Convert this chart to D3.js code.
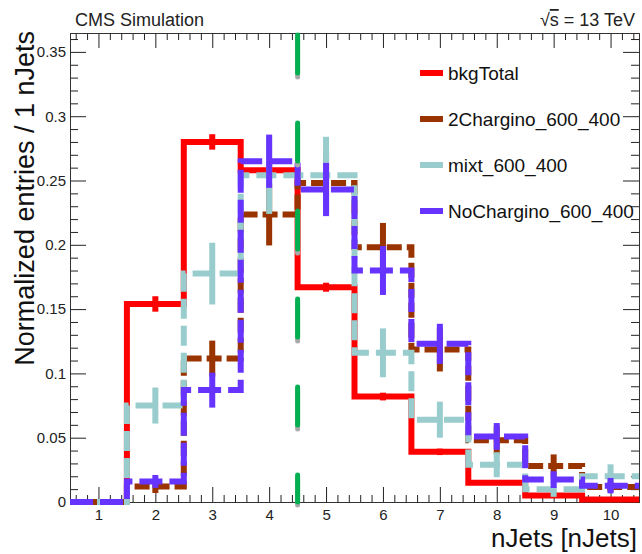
<!DOCTYPE html>
<html>
<head>
<meta charset="utf-8">
<script src="https://cdn.jsdelivr.net/npm/d3@7"></script>
<style>
body { margin: 0; background: #fff; }
text { font-family: "Liberation Sans", Arial, sans-serif; }
</style>
</head>
<body>
<script>
// nJets histogram, 4 samples, normalised
var w = 642, h = 554;
var x0 = 70, x1 = 639, y0 = 502, y1 = 33;

var bins = [1, 2, 3, 4, 5, 6, 7, 8, 9, 10];
var xTicks = [1, 2, 3, 4, 5, 6, 7, 8, 9, 10];
var yTicks = [0, 0.05, 0.1, 0.15, 0.2, 0.25, 0.3, 0.35];

var bkgTotal    = [0, 0.154, 0.280, 0.258, 0.167, 0.082, 0.039, 0.015, 0.005, 0.002];
var bkgTotalErr = [0, 0.006, 0.006, 0.005, 0.0035, 0.003, 0.0025, 0.0015, 0.001, 0.0005];
var chargino2    = [0, 0.012, 0.1115, 0.2235, 0.248, 0.198, 0.1185, 0.048, 0.028, 0.0117];
var chargino2Err = [0, 0.005, 0.014, 0.024, 0.024, 0.019, 0.017, 0.011, 0.009, 0.004];
var mixt    = [0, 0.075, 0.1776, 0.254, 0.254, 0.116, 0.064, 0.029, 0.010, 0.020];
var mixtErr = [0, 0.014, 0.024, 0.030, 0.030, 0.019, 0.014, 0.0097, 0.006, 0.0093];
var noChargino    = [0, 0.016, 0.087, 0.265, 0.243, 0.180, 0.123, 0.051, 0.0174, 0.0127];
var noCharginoErr = [0, 0.005, 0.0136, 0.0207, 0.0207, 0.019, 0.0156, 0.0104, 0.0065, 0.006];
var cutValue = 4.5;

var series = [
  {name: "bkgTotal", vals: bkgTotal, errs: bkgTotalErr, color: "#ff0000", dash: null},
  {name: "2Chargino_600_400", vals: chargino2, errs: chargino2Err, color: "#993300", dash: "15 5"},
  {name: "mixt_600_400", vals: mixt, errs: mixtErr, color: "#99cccc", dash: "20 7"},
  {name: "NoChargino_600_400", vals: noChargino, errs: noCharginoErr, color: "#6633ff", dash: "23 7"}
];

var svg = d3.select("body").append("svg")
  .attr("width", w)
  .attr("height", h);

var x = d3.scaleLinear().domain([0.5, 10.5]).range([x0, x1]);
var y = d3.scaleLinear().domain([0, 0.3647]).range([y0, y1]);

// minor ticks
var xMinor = d3.range(0.6, 10.5, 0.2).filter(function(d){ return Math.abs(d - Math.round(d)) > 0.05; });
var yMinor = d3.range(0.01, 0.365, 0.01).filter(function(d){ return Math.abs(d*20 - Math.round(d*20)) > 0.05; });

function styleAxis(g) {
  g.selectAll(".domain").attr("stroke", "#333");
  g.selectAll(".tick line").attr("stroke", "#222");
}

// bottom axis
svg.append("g").attr("transform", "translate(0," + y0 + ")")
  .call(d3.axisBottom(x).tickValues(xMinor).tickSize(-7).tickSizeOuter(0).tickFormat(""))
  .call(styleAxis);
svg.append("g").attr("transform", "translate(0," + y0 + ")")
  .call(d3.axisBottom(x).tickValues(xTicks).tickSize(-15).tickSizeOuter(0).tickPadding(7))
  .call(styleAxis)
  .selectAll("text").attr("font-size", "15px").attr("fill", "#222")
  .style("font-family", "'Liberation Sans', Arial, sans-serif");
// top axis
svg.append("g").attr("transform", "translate(0," + y1 + ")")
  .call(d3.axisTop(x).tickValues(xMinor).tickSize(-7).tickSizeOuter(0).tickFormat(""))
  .call(styleAxis);
svg.append("g").attr("transform", "translate(0," + y1 + ")")
  .call(d3.axisTop(x).tickValues(xTicks).tickSize(-15).tickSizeOuter(0).tickFormat(""))
  .call(styleAxis);
// left axis
svg.append("g").attr("transform", "translate(" + x0 + ",0)")
  .call(d3.axisLeft(y).tickValues(yMinor).tickSize(-8).tickSizeOuter(0).tickFormat(""))
  .call(styleAxis);
svg.append("g").attr("transform", "translate(" + x0 + ",0)")
  .call(d3.axisLeft(y).tickValues(yTicks).tickSize(-16).tickSizeOuter(0).tickPadding(4)
    .tickFormat(function(d){ return +d.toFixed(2); }))
  .call(styleAxis)
  .selectAll("text").attr("font-size", "15px").attr("fill", "#222")
  .style("font-family", "'Liberation Sans', Arial, sans-serif");
// right axis
svg.append("g").attr("transform", "translate(" + x1 + ",0)")
  .call(d3.axisRight(y).tickValues(yMinor).tickSize(-8).tickSizeOuter(0).tickFormat(""))
  .call(styleAxis);
svg.append("g").attr("transform", "translate(" + x1 + ",0)")
  .call(d3.axisRight(y).tickValues(yTicks).tickSize(-16).tickSizeOuter(0).tickFormat(""))
  .call(styleAxis);

// histograms
function stepPath(vals) {
  var p = d3.path();
  p.moveTo(x(0.5), y(vals[0]));
  vals.forEach(function(v, i) {
    if (i > 0) p.lineTo(x(bins[i] - 0.5), y(v));
    p.lineTo(x(bins[i] + 0.5), y(v));
  });
  return p.toString();
}

series.forEach(function(s) {
  var g = svg.append("g");
  g.append("path")
    .attr("d", stepPath(s.vals))
    .attr("fill", "none")
    .attr("stroke", s.color)
    .attr("stroke-width", 6)
    .attr("stroke-dasharray", s.dash);
  g.selectAll("line.err")
    .data(bins)
    .enter()
    .append("line")
    .attr("class", "err")
    .attr("x1", function(d){ return x(d); })
    .attr("x2", function(d){ return x(d); })
    .attr("y1", function(d, i){ return y(Math.max(0, s.vals[i] - s.errs[i])); })
    .attr("y2", function(d, i){ return y(s.vals[i] + s.errs[i]); })
    .attr("stroke", s.color)
    .attr("stroke-width", 6);
});

// cut line, grey shadow then green
svg.append("line")
  .attr("x1", x(cutValue)).attr("x2", x(cutValue))
  .attr("y1", y1 + 6).attr("y2", y0 + 3)
  .attr("stroke", "#aaaaaa").attr("stroke-width", 5)
  .attr("stroke-linecap", "round")
  .attr("stroke-dasharray", "38 50");
svg.append("line")
  .attr("x1", x(cutValue)).attr("x2", x(cutValue))
  .attr("y1", y1 + 2).attr("y2", y0)
  .attr("stroke", "#00b050").attr("stroke-width", 5)
  .attr("stroke-linecap", "round")
  .attr("stroke-dasharray", "38 50");

// legend
var legend = svg.selectAll("g.leg")
  .data(series)
  .enter()
  .append("g")
  .attr("class", "leg")
  .attr("transform", function(d, i){ return "translate(420," + (73 + i*46) + ")"; });
legend.append("line")
  .attr("x1", 0).attr("x2", 23)
  .attr("stroke", function(d){ return d.color; })
  .attr("stroke-width", 6);
legend.append("text")
  .attr("x", 28).attr("y", 7)
  .attr("font-size", "19px")
  .attr("fill", "#111")
  .text(function(d){ return d.name; });

// titles
svg.append("text")
  .attr("x", 75).attr("y", 26)
  .attr("font-size", "18px").attr("fill", "#222")
  .text("CMS Simulation");
var en = svg.append("text")
  .attr("x", 635).attr("y", 26)
  .attr("text-anchor", "end")
  .attr("font-size", "18px").attr("fill", "#222");
en.append("tspan").text("√");
en.append("tspan").style("text-decoration", "overline").text("s");
en.append("tspan").text(" = 13 TeV");

svg.append("text")
  .attr("x", 637).attr("y", 547)
  .attr("text-anchor", "end")
  .attr("font-size", "26px").attr("fill", "#111")
  .text("nJets [nJets]");
svg.append("text")
  .attr("transform", "translate(34,31) rotate(-90)")
  .attr("text-anchor", "end")
  .attr("font-size", "27px").attr("fill", "#111")
  .text("Normalized entries / 1 nJets");
</script>
</body>
</html>
